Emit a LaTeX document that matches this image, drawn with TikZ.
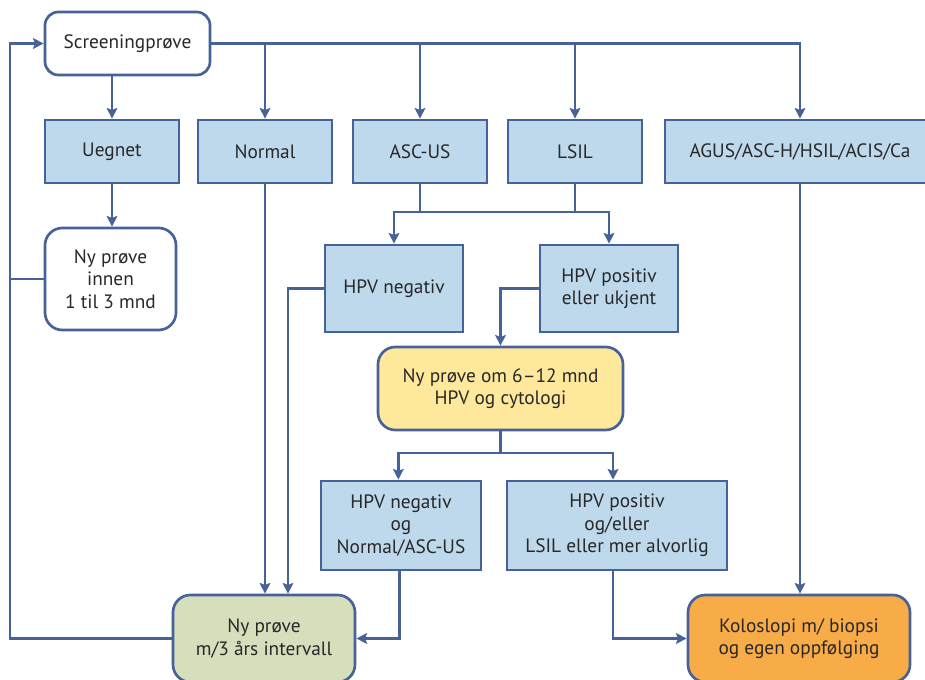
\documentclass[tikz,border=0pt]{standalone}
\usepackage{fontspec}
\setmainfont{PT Sans}
\usetikzlibrary
  {
    arrows.meta, % arrow heads
    positioning, % place nodes relative to other nodes
    calc,
  }
\definecolor{flowline}{RGB}{70,98,152}
\definecolor{textgrey}{RGB}{40,40,40}
\definecolor{resultblue}{RGB}{190,216,236}
\definecolor{retestyellow}{RGB}{254,232,156}
\definecolor{routinegreen}{RGB}{214,223,188}
\definecolor{referorange}{RGB}{248,172,72}

\begin{document}
\begin{tikzpicture}
    [
      x=0.75pt, y=-0.75pt,
      font=\fontsize{14.5}{16.8}\selectfont,
      >={Stealth[length=8pt,width=8pt,inset=1.5pt]},
      flow/.style=
        {
          draw=flowline,
          line width=2pt,
        },
      result/.style=
        {
          rectangle,
          draw=flowline,
          fill=resultblue,
          line width=2pt,
          text=textgrey,
          align=center,
          inner sep=0pt,
          minimum height=47.25pt,
          minimum width=100.5pt,
        },
      step box/.style=
        {
          rectangle,
          rounded corners=13pt,
          draw=flowline,
          line width=2pt,
          text=textgrey,
          align=center,
          inner sep=0pt,
        },
    ]
    \useasboundingbox (0,0) rectangle (925,680);

    % screening and first results
    \node[step box, fill=white, rounded corners=10pt,
          minimum width=123.75pt, minimum height=47.25pt]
                  (screen)  at (127.5,43.5) {Screeningprøve};
    \node[result] (uegnet)  at (112,151.5)  {Uegnet};
    \node[result] (normal)  at (265,151.5)  {Normal};
    \node[result] (ascus)   at (420,151.5)  {ASC-US};
    \node[result] (lsil)    at (575,151.5)  {LSIL};
    \node[result, minimum width=202.5pt]
                  (agus)    at (800,151.5)  {AGUS/ASC-H/HSIL/ACIS/Ca};

    % follow-up
    \node[step box, fill=white, minimum width=98.25pt, minimum height=76.5pt]
                  (retest)  at (110.5,279)  {Ny prøve\\innen\\1 til 3 mnd};
    \node[result, minimum width=103.5pt, minimum height=65.25pt]
                  (hpvneg)  at (394,288.5)  {HPV negativ};
    \node[result, minimum width=103.5pt, minimum height=65.25pt]
                  (hpvpos)  at (609,288.5)  {HPV positiv\\eller ukjent};
    \node[step box, fill=retestyellow, minimum width=183.75pt, minimum height=62.25pt]
                  (cotest)  at (500.5,388.5) {Ny prøve om 6--12 mnd\\HPV og cytologi};
    \node[result, minimum width=120pt, minimum height=66.75pt]
                  (cotestneg) at (401,525.5) {HPV negativ\\og\\Normal/ASC-US};
    \node[result, minimum width=165pt, minimum height=66.75pt]
                  (cotestpos) at (617,525.5) {HPV positiv\\og/eller\\LSIL eller mer alvorlig};

    % outcomes
    \node[step box, fill=routinegreen, minimum width=136.5pt, minimum height=65.25pt]
                  (routine) at (264,638.5)  {Ny prøve\\m/3 års intervall};
    \node[step box, fill=referorange, minimum width=166.5pt, minimum height=65.25pt]
                  (colpo)   at (799,638.5)  {Koloslopi m/ biopsi\\og egen oppfølging};

    \coordinate (loop)   at (10,43.5);
    \coordinate (fork a) at (0,212);
    \coordinate (fork b) at (0,453);

    % top row
    \draw[flow,->] (screen.east) -| (agus.north);
    \draw[flow,->] (uegnet.north |- screen.south) -- (uegnet.north);
    \draw[flow,->] (normal.north |- screen.east) -- (normal.north);
    \draw[flow,->] (ascus.north |- screen.east) -- (ascus.north);
    \draw[flow,->] (lsil.north |- screen.east) -- (lsil.north);
    \draw[flow,->] (uegnet.south) -- (uegnet.south |- retest.north);

    % back to screening
    \draw[flow,->] (routine.west) -| (loop) -- (screen.west);
    \draw[flow] (retest.west) -- (retest.west -| loop);

    % ASC-US and LSIL
    \draw[flow] (ascus.south) -- (ascus.south |- fork a);
    \draw[flow] (lsil.south) -- (lsil.south |- fork a);
    \draw[flow,<->] (hpvneg.north) -- (hpvneg.north |- fork a)
                    -- (hpvpos.north |- fork a) -- (hpvpos.north);
    \draw[flow,->] (hpvneg.west) -| ([xshift=18pt]routine.north);
    \draw[flow,->] (normal.south) -- (normal.south |- routine.north);
    \draw[flow,->] (hpvpos.west) -| (cotest.north);

    % co-test
    \draw[flow] (cotest.south) -- (cotest.south |- fork b);
    \draw[flow,<->] ([xshift=-2pt]cotestneg.north)
                    -- ([xshift=-2pt]cotestneg.north |- fork b)
                    -- ([xshift=-3pt]cotestpos.north |- fork b)
                    -- ([xshift=-3pt]cotestpos.north);
    \draw[flow,->] ([xshift=-1pt]cotestneg.south) |- (routine.east);
    \draw[flow,->] ([xshift=-3pt]cotestpos.south) |- (colpo.west);
    \draw[flow,->] (agus.south) -- (agus.south |- colpo.north);
  \end{tikzpicture}
\end{document}
